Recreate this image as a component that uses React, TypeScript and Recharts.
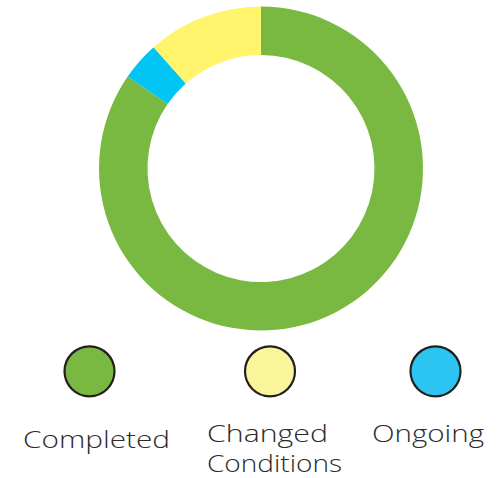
import React from 'react';
import { PieChart, Pie, Cell, Legend } from 'recharts';

// slices, in clockwise order from 12 o'clock
const sliceNames = ['Completed', 'Ongoing', 'Changed Conditions'];
const sliceValues = [44, 2, 6];
const sliceColors = ['#7ab941', '#00c5f5', '#fff46b'];

// legend entries, in the order they are shown
const legendNames = ['Completed', 'Changed Conditions', 'Ongoing'];
const legendLines = [['Completed'], ['Changed', 'Conditions'], ['Ongoing']];
const legendColors = ['#7ab941', '#f9f59a', '#2cc5f2'];

const data = sliceNames.map((name, i) => ({ name, value: sliceValues[i] }));

const font = '"Open Sans", Lato, sans-serif';

// legend item layout: marker centre x, text left x, text widths per line
const legendLayout = [
  { cx: 89.5, tx: 23, widths: [147], baseline: [118] },
  { cx: 270, tx: 207, widths: [121, 135], baseline: [112, 142] },
  { cx: 435.5, tx: 372, widths: [112], baseline: [112] },
];

const renderLegend = () => (
  <svg width={499} height={148} style={{ display: 'block' }}>
    {legendNames.map((name, i) => {
      const l = legendLayout[i];
      return (
        <g key={name}>
          <circle cx={l.cx} cy={41.3} r={25} fill={legendColors[i]} stroke="#231f20" strokeWidth={2.2} />
          {legendLines[i].map((line, j) => (
            <text
              key={line}
              x={l.tx}
              y={l.baseline[j]}
              fontFamily={font}
              fontSize={24}
              fontWeight={300}
              fill="#2b2b2b"
              textLength={l.widths[j]}
              lengthAdjust="spacingAndGlyphs"
            >
              {line}
            </text>
          ))}
        </g>
      );
    })}
  </svg>
);

export default function App() {
  return (
    <div style={{ position: 'absolute', left: 0, top: 0, background: '#ffffff' }}>
      <PieChart width={499} height={478} margin={{ top: 0, right: 0, bottom: 0, left: 0 }}>
        <Pie
          data={data}
          dataKey="value"
          nameKey="name"
          cx={261}
          cy={168.5}
          innerRadius={113.5}
          outerRadius={162}
          startAngle={90}
          endAngle={-270}
          stroke="none"
          isAnimationActive={false}
        >
          {data.map((d, i) => (
            <Cell key={d.name} fill={sliceColors[i]} />
          ))}
        </Pie>
        <Legend
          content={renderLegend}
          wrapperStyle={{ position: 'absolute', left: 0, top: 330, width: 499, height: 148 }}
        />
      </PieChart>
    </div>
  );
}
